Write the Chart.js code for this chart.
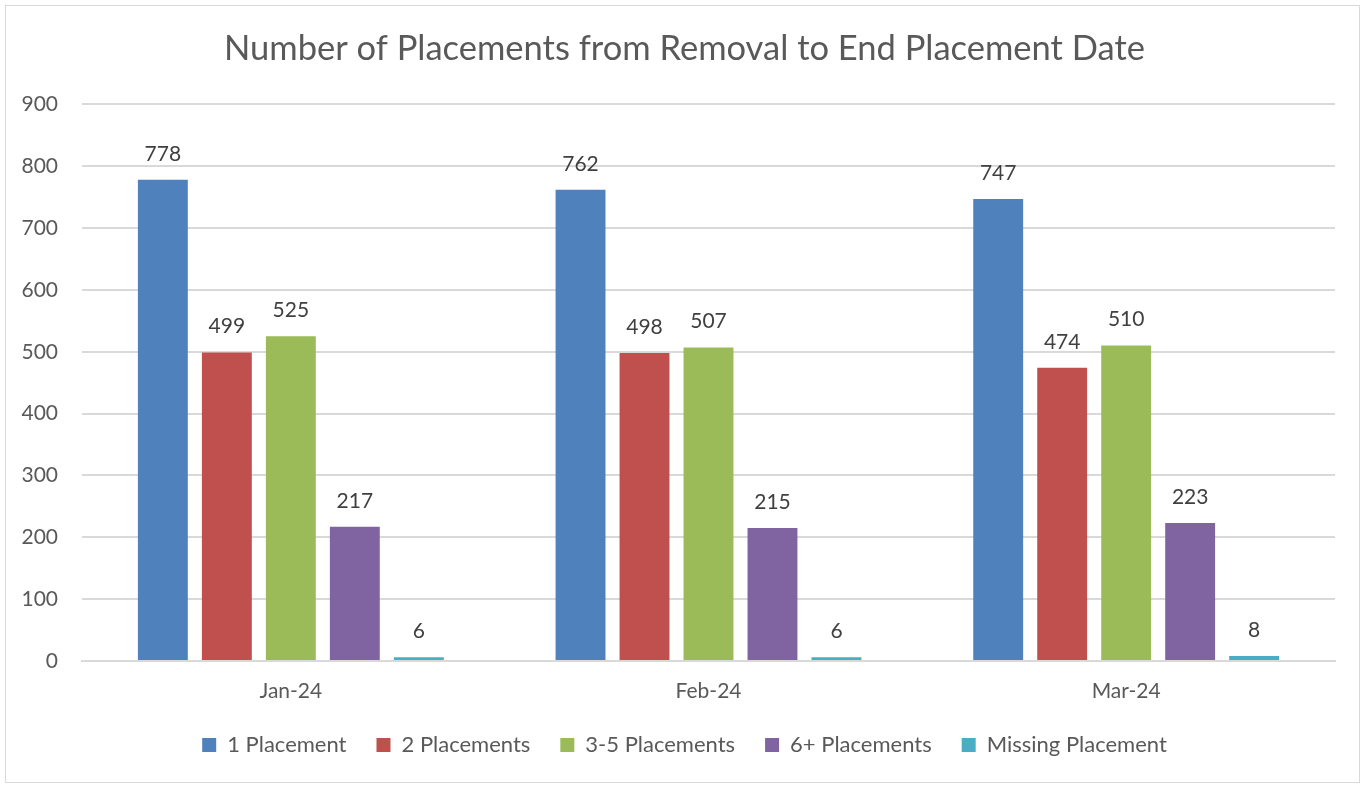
<!DOCTYPE html>
<html>
<head>
<meta charset="utf-8">
<script src="https://cdn.jsdelivr.net/npm/chart.js@4"></script>
<style>
  html, body { margin: 0; padding: 0; background: #fff; overflow: hidden; }
  #wrap { position: absolute; left: 5px; top: 5px; width: 1355px; height: 778px; border: 1px solid #d9d9d9; box-sizing: border-box; }
  #chart { position: absolute; left: 6px; top: 6px; }
</style>
</head>
<body>
<div id="wrap"></div>
<canvas id="chart" width="1357" height="776"></canvas>
<script>
const months = ["Jan-24", "Feb-24", "Mar-24"];
const onePlacement = [778, 762, 747];
const twoPlacements = [499, 498, 474];
const threeToFive = [525, 507, 510];
const sixPlus = [217, 215, 223];
const missing = [6, 6, 8];

const seriesNames = ["1 Placement", "2 Placements", "3-5 Placements", "6+ Placements", "Missing Placement"];
const colors = ["#4f81bd", "#c0504d", "#9bbb59", "#8064a2", "#4bacc6"];
const values = [onePlacement, twoPlacements, threeToFive, sixPlus, missing];

const font = "Lato, 'Open Sans', sans-serif";

// value labels over each bar
const barLabels = {
  id: "barLabels",
  afterDatasetsDraw(chart) {
    const ctx = chart.ctx;
    ctx.save();
    ctx.font = "21px " + font;
    ctx.fillStyle = "#404040";
    ctx.textAlign = "center";
    ctx.textBaseline = "middle";
    chart.data.datasets.forEach((ds, i) => {
      chart.getDatasetMeta(i).data.forEach((bar, j) => {
        ctx.fillText(ds.data[j], bar.x, bar.y - 26);
      });
    });
    ctx.restore();
  }
};

new Chart(document.getElementById("chart"), {
  type: "bar",
  data: {
    labels: months,
    datasets: seriesNames.map((name, i) => ({
      label: name,
      data: values[i],
      backgroundColor: colors[i],
      borderWidth: 0,
      categoryPercentage: 0.766,
      barPercentage: 0.78
    }))
  },
  options: {
    responsive: false,
    animation: false,
    layout: { padding: { left: 0, right: 0, top: 0, bottom: 16 } },
    plugins: {
      title: {
        display: true,
        text: "Number of Placements from Removal to End Placement Date",
        color: "#595959",
        font: { family: font, size: 34.5, weight: "normal" },
        padding: { top: 22, bottom: 35 }
      },
      legend: {
        position: "bottom",
        labels: {
          color: "#595959",
          font: { family: font, size: 22 },
          boxWidth: 14,
          boxHeight: 14,
          padding: 30
        }
      },
      tooltip: { enabled: false }
    },
    scales: {
      x: {
        grid: { display: false },
        border: { color: "#d9d9d9", width: 2 },
        ticks: { color: "#595959", font: { family: font, size: 21, lineHeight: 1 }, padding: 12 },
        afterFit(scale) { scale.height = 43; }
      },
      y: {
        min: 0,
        max: 900,
        ticks: { stepSize: 100, color: "#595959", font: { family: font, size: 21 }, padding: 24 },
        grid: { color: "#d9d9d9", lineWidth: 2, drawTicks: false },
        border: { display: false },
        afterFit(scale) { scale.width = 76; }
      },
      // empty right-hand spacer so the plot ends where the reference does
      yRight: {
        position: "right",
        min: 0,
        max: 900,
        grid: { display: false },
        ticks: { display: false },
        border: { display: false },
        afterFit(scale) { scale.width = 28; }
      }
    }
  },
  plugins: [barLabels]
});
</script>
</body>
</html>
